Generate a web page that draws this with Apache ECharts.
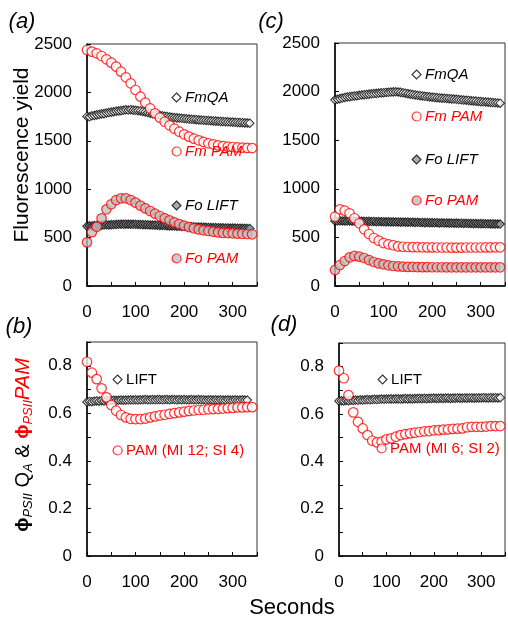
<!DOCTYPE html>
<html>
<head>
<meta charset="utf-8">
<title>Fluorescence yield and PSII efficiency, LIFT vs PAM</title>
<script src="https://cdn.jsdelivr.net/npm/echarts@6/dist/echarts.min.js"></script>
<style>
  html, body { margin: 0; padding: 0; background: #fff; }
  #chart { width: 508px; height: 620px; }
</style>
</head>
<body>
<div id="chart"></div>
<script>
// Sampling times (s): LIFT every 5 s, PAM every 10 s
const liftTimes = [0,5,10,15,20,25,30,35,40,45,50,55,60,65,70,75,80,85,90,95,
  100,105,110,115,120,125,130,135,140,145,150,155,160,165,170,175,180,185,190,195,
  200,205,210,215,220,225,230,235,240,245,250,255,260,265,270,275,280,285,290,295,
  300,305,310,315,320,325,330,335,340];
const pamTimes = [0,10,20,30,40,50,60,70,80,90,100,110,120,130,140,150,160,170,
  180,190,200,210,220,230,240,250,260,270,280,290,300,310,320,330,340];

// (a) fluorescence yields
const fmQA_a = [1752,1748,1758,1762,1768,1772,1778,1781,1788,1792,
  1796,1800,1806,1809,1812,1816,1820,1818,1821,1817,
  1815,1812,1808,1803,1798,1792,1786,1780,1774,1768,
  1763,1758,1754,1750,1746,1743,1740,1737,1735,1732,
  1730,1727,1725,1722,1720,1718,1716,1714,1712,1710,
  1709,1707,1705,1703,1702,1700,1699,1697,1696,1694,
  1693,1691,1690,1688,1687,1685,1684,1682];
const foLIFT_a = [618,622,620,624,626,627,629,630,632,631,
  634,635,636,637,638,637,639,638,638,637,
  637,636,635,634,633,632,631,630,629,628,
  626,625,624,623,621,620,619,618,617,616,
  615,614,613,612,611,610,609,608,607,606,
  605,604,604,603,602,601,601,600,600,599,
  598,598,597,597,596,596,595,595];
const fmPAM_a = [2438,2421,2404,2376,2342,2307,2266,2214,2156,2094,
  2025,1956,1894,1836,1784,1739,1697,1660,1625,1594,
  1567,1543,1522,1505,1488,1474,1464,1453,1446,1439,
  1436,1432,1429,1427,1425];
const foPAM_a = [451,556,613,699,792,844,888,906,906,888,
  861,830,802,775,747,723,699,678,658,640,
  623,609,596,585,575,568,561,554,549,547,
  544,541,540,537,534];

// (c) fluorescence yields
const fmQA_c = [1915,1922,1928,1934,1940,1945,1948,1952,1955,1958,
  1962,1965,1968,1971,1974,1977,1980,1982,1985,1987,
  1989,1991,1993,1995,1997,1998,1996,1992,1988,1984,
  1978,1974,1970,1966,1962,1958,1955,1952,1949,1946,
  1942,1940,1938,1935,1933,1931,1929,1927,1925,1923,
  1921,1918,1916,1913,1911,1909,1906,1904,1902,1899,
  1897,1895,1893,1891,1889,1887,1885,1883,1881];
const foLIFT_c = [670,668,671,669,670,668,669,667,668,666,
  667,665,666,664,665,663,664,662,663,661,
  662,660,661,659,660,658,659,657,658,656,
  657,655,656,654,655,653,654,652,653,651,
  652,650,651,649,650,648,649,647,648,646,
  647,645,646,644,645,643,644,642,643,641,
  642,641,640,640,639,639,638,638,637];
const fmPAM_c = [713,789,775,748,697,645,583,535,494,466,
  442,429,419,408,404,401,400,399,398,397,
  397,396,396,396,395,395,395,396,396,396,
  396,397,397,398,398];
const foPAM_c = [165,216,257,295,309,302,288,267,247,233,
  223,213,206,202,199,197,196,195,194,194,
  193,193,193,192,192,192,192,192,192,192,
  192,192,192,192,192];

// (b) PSII quantum yield
const phiLIFT_b = [0.648,0.650,0.649,0.651,0.652,0.651,0.653,0.652,0.654,0.653,
  0.654,0.655,0.654,0.655,0.656,0.655,0.656,0.656,0.657,0.656,
  0.657,0.656,0.657,0.657,0.658,0.657,0.657,0.658,0.657,0.658,
  0.658,0.657,0.658,0.658,0.657,0.658,0.658,0.657,0.658,0.657,
  0.658,0.657,0.657,0.658,0.657,0.657,0.658,0.657,0.657,0.656,
  0.657,0.657,0.656,0.657,0.656,0.657,0.656,0.656,0.657,0.656,
  0.656,0.657,0.656,0.656,0.657,0.656,0.656];
const phiPAM_b = [0.817,0.771,0.744,0.705,0.667,0.635,0.611,0.593,0.583,0.577,
  0.576,0.576,0.578,0.583,0.587,0.591,0.594,0.598,0.601,0.604,
  0.607,0.610,0.612,0.614,0.615,0.617,0.618,0.619,0.620,0.622,
  0.623,0.625,0.625,0.626,0.626];

// (d) PSII quantum yield
const phiLIFT_d = [0.655,0.656,0.655,0.657,0.656,0.658,0.657,0.659,0.658,0.660,
  0.659,0.660,0.661,0.660,0.661,0.662,0.661,0.662,0.663,0.662,
  0.663,0.663,0.664,0.663,0.664,0.664,0.663,0.664,0.665,0.664,
  0.665,0.664,0.665,0.665,0.666,0.665,0.666,0.665,0.666,0.666,
  0.667,0.666,0.666,0.667,0.666,0.667,0.667,0.666,0.667,0.667,
  0.668,0.667,0.667,0.668,0.667,0.668,0.668,0.667,0.668,0.668,
  0.668,0.669,0.668,0.668,0.669,0.668,0.669,0.668,0.669];
const phiPAM_d = [0.783,0.751,0.680,0.607,0.567,0.539,0.511,0.487,0.480,0.483,
  0.493,0.497,0.504,0.511,0.515,0.518,0.521,0.524,0.527,0.528,
  0.531,0.532,0.534,0.535,0.537,0.538,0.539,0.544,0.546,0.546,
  0.546,0.547,0.549,0.549,0.549];

const FONT = '"Liberation Sans", Arial, sans-serif';
const RED = '#ff0000';

const pairs = (times, vals) => vals.map((v, i) => [times[i], v]);

// marker styles
const openDiamond = { color: '#ffffff', borderColor: '#000000', borderWidth: 1.1 };
const greyDiamond = { color: '#999999', borderColor: '#000000', borderWidth: 1.1 };
const openCircle  = { color: '#ffffff', borderColor: RED, borderWidth: 1.2 };
const greyCircle  = { color: '#bfbfbf', borderColor: RED, borderWidth: 1.2 };

const grids = [
  { left: 87,  top: 44,  width: 170, height: 242 },  // (a)
  { left: 335, top: 43,  width: 173, height: 243 },  // (c)
  { left: 87,  top: 342, width: 170, height: 214 },  // (b)
  { left: 339, top: 343, width: 173, height: 213 }   // (d)
].map(g => Object.assign({ show: true, borderColor: '#333', borderWidth: 1, containLabel: false }, g));

const axisBase = {
  axisLine: { show: true, lineStyle: { color: '#000', width: 1.5 } },
  axisTick: { show: true, inside: true, length: 4, lineStyle: { color: '#000', width: 1 } },
  splitLine: { show: false }
};

const xAxes = [0, 1, 2, 3].map(i => Object.assign({}, axisBase, {
  type: 'value', gridIndex: i, min: 0, max: 350, interval: 50,
  axisLabel: {
    margin: 18, color: '#000', fontSize: 17, fontFamily: FONT,
    formatter: v => (v % 100 === 0 ? String(v) : '')
  }
}));

const yieldLabel = { margin: 15, color: '#000', fontSize: 17, fontFamily: FONT, formatter: v => String(v) };

const yAxes = [
  Object.assign({}, axisBase, { type: 'value', gridIndex: 0, min: 0, max: 2500, interval: 500, axisLabel: yieldLabel }),
  Object.assign({}, axisBase, { type: 'value', gridIndex: 1, min: 0, max: 2500, interval: 500, axisLabel: yieldLabel }),
  ...[2, 3].map(i => Object.assign({}, axisBase, {
    type: 'value', gridIndex: i, min: 0, max: 0.9, interval: 0.1,
    axisLabel: {
      margin: 15, color: '#000', fontSize: 17, fontFamily: FONT,
      formatter: v => {
        const k = Math.round(v * 10);
        if (k % 2 !== 0) return '';
        return k === 0 ? '0' : (k / 10).toFixed(1);
      }
    }
  }))
];

function scatter(name, idx, times, vals, symbol, size, style) {
  return {
    type: 'scatter', name, xAxisIndex: idx, yAxisIndex: idx,
    data: pairs(times, vals), symbol, symbolSize: size,
    itemStyle: style, emphasis: { disabled: true }, animation: false
  };
}

const DSIZE = 8.5, CSIZE = 9.5;

const series = [
  // (a)
  scatter('FmQA',    0, liftTimes, fmQA_a,   'diamond', DSIZE, openDiamond),
  scatter('Fo LIFT', 0, liftTimes, foLIFT_a, 'diamond', DSIZE, greyDiamond),
  scatter('Fm PAM',  0, pamTimes,  fmPAM_a,  'circle',  CSIZE, openCircle),
  scatter('Fo PAM',  0, pamTimes,  foPAM_a,  'circle',  CSIZE, greyCircle),
  // (c)
  scatter('FmQA',    1, liftTimes, fmQA_c,   'diamond', DSIZE, openDiamond),
  scatter('Fo LIFT', 1, liftTimes, foLIFT_c, 'diamond', DSIZE, greyDiamond),
  scatter('Fm PAM',  1, pamTimes,  fmPAM_c,  'circle',  CSIZE, openCircle),
  scatter('Fo PAM',  1, pamTimes,  foPAM_c,  'circle',  CSIZE, greyCircle),
  // (b)
  scatter('LIFT',               2, liftTimes, phiLIFT_b, 'diamond', DSIZE, openDiamond),
  scatter('PAM (MI 12; SI 4)',  2, pamTimes,  phiPAM_b,  'circle',  CSIZE, openCircle),
  // (d)
  scatter('LIFT',               3, liftTimes, phiLIFT_d, 'diamond', DSIZE, openDiamond),
  scatter('PAM (MI 6; SI 2)',   3, pamTimes,  phiPAM_d,  'circle',  CSIZE, openCircle)
];

// in-plot keys, one legend block per entry
function key(name, icon, style, cx, cy, color, italic) {
  return {
    data: [{ name, icon, itemStyle: style }],
    left: cx - 4.5, top: cy - 9, padding: 0,
    itemWidth: 9, itemHeight: 9, selectedMode: false,
    textStyle: { color, fontSize: 15, fontFamily: FONT, fontStyle: italic ? 'italic' : 'normal', padding: [0, 0, 0, -1] }
  };
}

const legends = [
  key('FmQA',   'diamond', openDiamond, 176, 99,  '#000', true),
  key('Fm PAM', 'circle',  openCircle,  176, 153, RED,    true),
  key('Fo LIFT','diamond', greyDiamond, 176, 207, '#000', true),
  key('Fo PAM', 'circle',  greyCircle,  176, 260, RED,    true),
  key('FmQA',   'diamond', openDiamond, 416, 76,  '#000', true),
  key('Fm PAM', 'circle',  openCircle,  416, 118, RED,    true),
  key('Fo LIFT','diamond', greyDiamond, 416, 161, '#000', true),
  key('Fo PAM', 'circle',  greyCircle,  416, 202, RED,    true),
  key('LIFT',               'diamond', openDiamond, 117, 381, '#000', false),
  key('PAM (MI 12; SI 4)',  'circle',  openCircle,  117, 452, RED,    false),
  key('LIFT',               'diamond', openDiamond, 382, 381, '#000', false),
  key('PAM (MI 6; SI 2)',   'circle',  openCircle,  381, 450, RED,    false)
];

function label(text, x, y, size, italic) {
  return { type: 'text', x, y, silent: true,
    style: { text, fill: '#000', align: 'center', verticalAlign: 'middle',
      font: (italic ? 'italic ' : '') + size + 'px ' + FONT } };
}

const graphic = [
  label('(a)', 22, 22, 22, true),
  label('(c)', 271, 22, 22, true),
  label('(b)', 19, 327, 22, true),
  label('(d)', 284, 325, 22, true),
  label('Seconds', 292, 608, 22, false),
  Object.assign(label('Fluorescence yield', 22, 155, 21, false), { rotation: Math.PI / 2 }),
  {
    type: 'text', x: 23, y: 445, rotation: Math.PI / 2, silent: true,
    style: {
      text: '{p|ϕ}{s|PSII}{n| Q}{s|A}{n| & }{rp|ϕ}{rs|PSII}{ri|PAM}',
      align: 'center', verticalAlign: 'middle',
      rich: {
        p:  { fontSize: 19, fontWeight: 'bold', fontFamily: FONT, fill: '#000', lineHeight: 24 },
        n:  { fontSize: 20, fontFamily: FONT, fill: '#000', lineHeight: 24 },
        s:  { fontSize: 13, fontStyle: 'italic', fontFamily: FONT, fill: '#000', lineHeight: 14, verticalAlign: 'bottom' },
        rp: { fontSize: 19, fontWeight: 'bold', fontFamily: FONT, fill: RED, lineHeight: 24 },
        rs: { fontSize: 13, fontStyle: 'italic', fontFamily: FONT, fill: RED, lineHeight: 14, verticalAlign: 'bottom' },
        ri: { fontSize: 20, fontStyle: 'italic', fontFamily: FONT, fill: RED, lineHeight: 24 }
      }
    }
  }
];

const chart = echarts.init(document.getElementById('chart'), null, { renderer: 'canvas' });
chart.setOption({
  backgroundColor: '#ffffff',
  animation: false,
  grid: grids,
  xAxis: xAxes,
  yAxis: yAxes,
  legend: legends,
  series,
  graphic
});
</script>
</body>
</html>
